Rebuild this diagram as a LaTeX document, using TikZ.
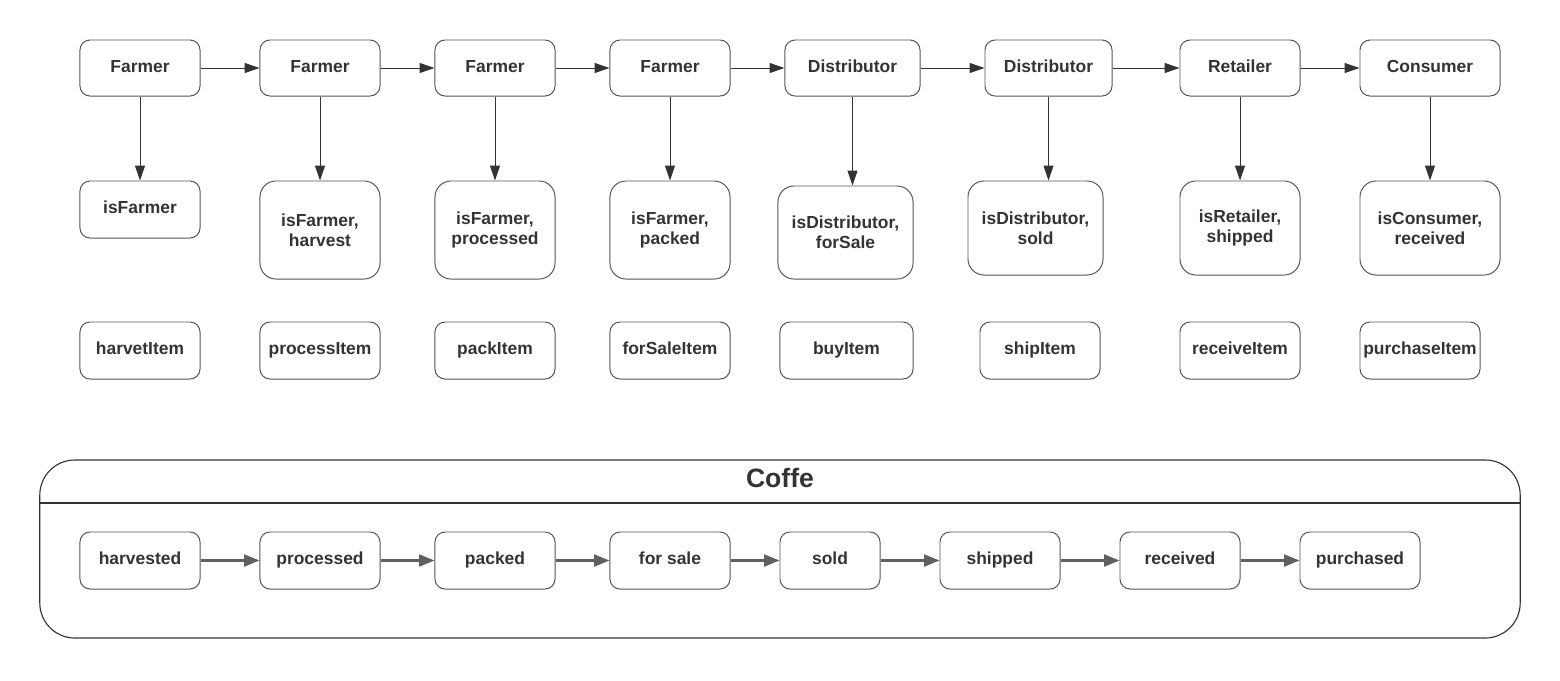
\documentclass[tikz,border=0pt]{standalone}
\usepackage{fontspec}
\setmainfont{Liberation Sans}
\usetikzlibrary{arrows.meta}
\definecolor{ink}{HTML}{333333}
\definecolor{frame}{HTML}{555555}
\definecolor{flow}{HTML}{606060}
\tikzset{
	base/.style={draw=frame, line width=0.7pt, rounded corners=0.25cm, text=ink,
		font=\fontsize{12.4}{14.2}\selectfont\bfseries, align=center, inner sep=0pt,
		minimum width=3cm, minimum height=1.4cm},
	box/.style={base, text height=9.5pt, text depth=3.5pt},
	tall/.style={base, rounded corners=0.4cm, minimum height=2.45cm},
	link/.style={draw=ink, line width=0.7pt, -{Triangle[length=10.5pt,width=7pt]}},
	flowlink/.style={draw=flow, line width=1.6pt, -{Triangle[length=11pt,width=8.5pt]}}
}
\begin{document}
\begin{tikzpicture}[x=0.025cm,y=-0.025cm]
	\useasboundingbox (0,0) rectangle (1560,680);

	% who handles the coffee
	\node[box] (farmer1) at (140,68) {Farmer};
	\node[box] (farmer2) at (320,68) {Farmer};
	\node[box] (farmer3) at (495,68) {Farmer};
	\node[box] (farmer4) at (670,68) {Farmer};
	\node[box, minimum width=3.375cm] (distrib1) at (852.5,68) {Distributor};
	\node[box, minimum width=3.175cm] (distrib2) at (1048.5,68) {Distributor};
	\node[box] (retailer) at (1240,68) {Retailer};
	\node[box, minimum width=3.5cm] (consumer) at (1430,68) {Consumer};
	\draw[link] (farmer1) -- (farmer2);
	\draw[link] (farmer2) -- (farmer3);
	\draw[link] (farmer3) -- (farmer4);
	\draw[link] (farmer4) -- (distrib1);
	\draw[link] (distrib1) -- (distrib2);
	\draw[link] (distrib2) -- (retailer);
	\draw[link] (retailer) -- (consumer);

	% checks
	\node[box, minimum height=1.425cm] (check1) at (140,209.5) {isFarmer};
	\node[tall] (check2) at (320,230) {isFarmer,\\harvest};
	\node[tall] (check3) at (495,230) {isFarmer,\\processed};
	\node[tall] (check4) at (670,230) {isFarmer,\\packed};
	\node[tall, minimum width=3.375cm, minimum height=2.325cm] (check5) at (845.5,232.5) {isDistributor,\\forSale};
	\node[tall, minimum width=3.375cm, minimum height=2.35cm] (check6) at (1035.5,228) {isDistributor,\\sold};
	\node[tall, minimum height=2.35cm] (check7) at (1240,228) {isRetailer,\\shipped};
	\node[tall, minimum width=3.5cm, minimum height=2.35cm] (check8) at (1430,228) {isConsumer,\\received};
	\draw[link] (farmer1) -- (check1);
	\draw[link] (farmer2) -- (check2);
	\draw[link] (farmer3) -- (check3);
	\draw[link] (farmer4) -- (check4);
	\draw[link] (distrib1.south) -- (distrib1.south |- check5.north);
	\draw[link] (distrib2.south) -- (distrib2.south |- check6.north);
	\draw[link] (retailer) -- (check7);
	\draw[link] (consumer) -- (check8);

	% functions
	\node[box, minimum height=1.425cm] (fn1) at (140,350.5) {harvetItem};
	\node[box, minimum height=1.425cm] (fn2) at (320,350.5) {processItem};
	\node[box, minimum height=1.425cm] (fn3) at (495,350.5) {packItem};
	\node[box, minimum height=1.425cm] (fn4) at (670,350.5) {forSaleItem};
	\node[box, minimum height=1.425cm, minimum width=3.325cm] (fn5) at (846.5,350.5) {buyItem};
	\node[box, minimum height=1.425cm] (fn6) at (1040,350.5) {shipItem};
	\node[box, minimum height=1.425cm] (fn7) at (1240,350.5) {receiveItem};
	\node[box, minimum height=1.425cm] (fn8) at (1420,350.5) {purchaseItem};

	% coffee states
	\node[draw=ink, line width=0.8pt, rounded corners=0.875cm, minimum width=37cm,
		minimum height=4.45cm] (coffe) at (780,549) {};
	\node[text=ink, font=\fontsize{18.9}{22}\selectfont\bfseries] (title) at (780,478) {Coffe};
	\draw[ink, line width=0.8pt] (coffe.west |- 0,503) -- (coffe.east |- 0,503);

	\node[box, minimum height=1.425cm] (state1) at (140,560.5) {harvested};
	\node[box, minimum height=1.425cm] (state2) at (320,560.5) {processed};
	\node[box, minimum height=1.425cm] (state3) at (495,560.5) {packed};
	\node[box, minimum height=1.425cm] (state4) at (670,560.5) {for sale};
	\node[box, minimum height=1.425cm, minimum width=2.5cm] (state5) at (830,560.5) {sold};
	\node[box, minimum height=1.425cm] (state6) at (1000,560.5) {shipped};
	\node[box, minimum height=1.425cm] (state7) at (1180,560.5) {received};
	\node[box, minimum height=1.425cm] (state8) at (1360,560.5) {purchased};
	\draw[flowlink] (state1) -- (state2);
	\draw[flowlink] (state2) -- (state3);
	\draw[flowlink] (state3) -- (state4);
	\draw[flowlink] (state4) -- (state5);
	\draw[flowlink] (state5) -- (state6);
	\draw[flowlink] (state6) -- (state7);
	\draw[flowlink] (state7) -- (state8);
\end{tikzpicture}
\end{document}
